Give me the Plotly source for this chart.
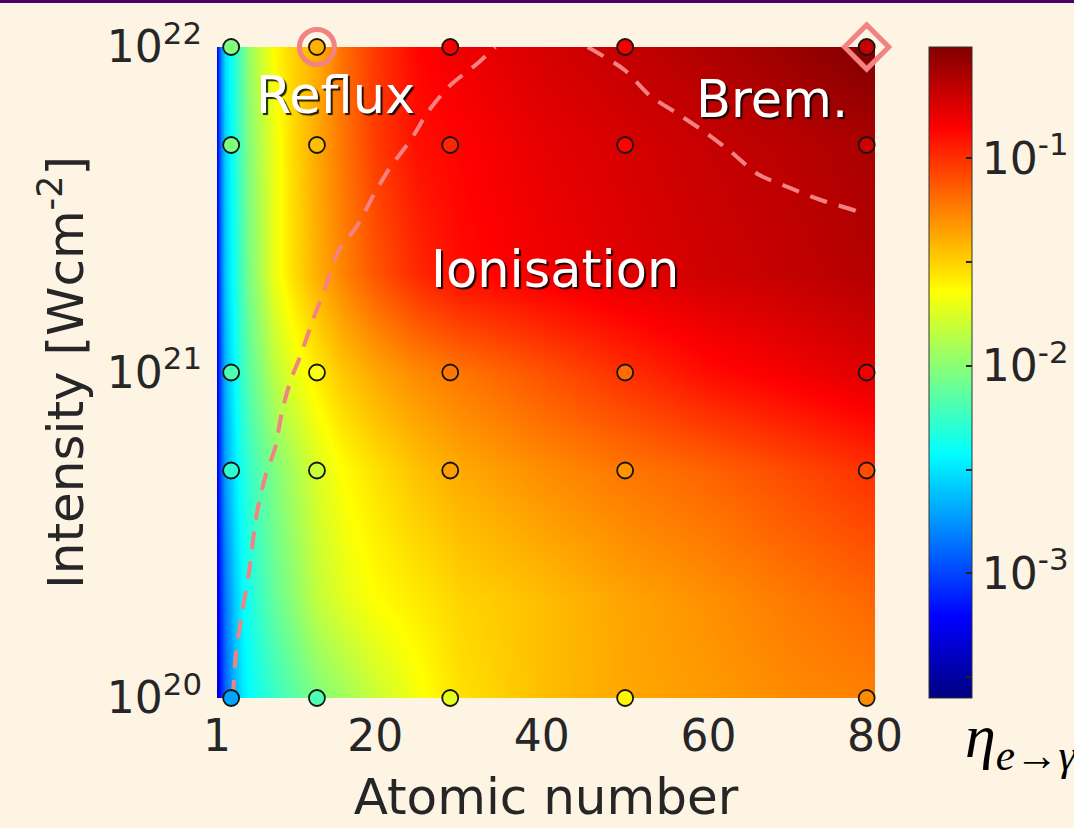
import plotly.graph_objects as go

# ---------------- data ----------------
# background model map: atomic number grid, intensity grid, log10(eta) values
atomic_grid = [1, 1.5, 2, 3, 4, 5, 6, 8, 10, 13, 16, 20, 25, 30, 40, 50, 60, 70, 80]
intensity_grid = [1e20, 2e20, 5e20, 1e21, 2e21, 5e21, 1e22]
log_eta_1e20 = [-3.35, -3.10, -2.91, -2.66, -2.50, -2.41, -2.35, -2.25, -2.16, -2.03, -1.94, -1.81, -1.67, -1.55, -1.44, -1.37, -1.33, -1.28, -1.25]
log_eta_2e20 = [-3.26, -3.04, -2.85, -2.60, -2.44, -2.35, -2.25, -2.11, -2.00, -1.83, -1.73, -1.64, -1.58, -1.51, -1.44, -1.36, -1.30, -1.23, -1.17]
log_eta_5e20 = [-3.22, -2.94, -2.72, -2.50, -2.35, -2.25, -2.16, -2.03, -1.91, -1.75, -1.64, -1.55, -1.45, -1.38, -1.29, -1.22, -1.16, -1.08, -1.00]
log_eta_1e21 = [-3.22, -2.91, -2.66, -2.44, -2.25, -2.13, -2.03, -1.84, -1.72, -1.58, -1.47, -1.37, -1.28, -1.22, -1.11, -1.00, -0.89, -0.82, -0.75]
log_eta_2e21 = [-3.19, -2.85, -2.60, -2.38, -2.19, -2.03, -1.91, -1.69, -1.55, -1.39, -1.26, -1.12, -0.98, -0.89, -0.82, -0.76, -0.71, -0.67, -0.62]
log_eta_5e21 = [-3.19, -2.82, -2.57, -2.35, -2.16, -2.00, -1.88, -1.69, -1.53, -1.37, -1.22, -1.04, -0.90, -0.86, -0.78, -0.73, -0.68, -0.64, -0.59]
log_eta_1e22 = [-3.19, -2.78, -2.53, -2.31, -2.13, -1.94, -1.81, -1.62, -1.51, -1.39, -1.20, -1.03, -0.87, -0.81, -0.73, -0.67, -0.61, -0.54, -0.46]

# simulation points
sim_Z = [2.7, 13, 29, 50, 79]
sim_I = [1e20, 5e20, 1e21, 5e21, 1e22]
sim_log_eta_1e20 = [-2.70, -2.19, -1.72, -1.62, -1.28]
sim_log_eta_5e20 = [-2.28, -1.81, -1.34, -1.31, -1.09]
sim_log_eta_1e21 = [-2.19, -1.66, -1.22, -1.19, -0.81]
sim_log_eta_5e21 = [-2.03, -1.44, -0.97, -0.86, -0.71]
sim_log_eta_1e22 = [-2.03, -1.40, -0.84, -0.82, -0.68]

# regime boundaries (atomic number, log10 intensity)
reflux_Z = [2.9, 3.3, 4.0, 4.8, 5.3, 5.8, 6.8, 8.0, 8.8, 9.9, 11.0, 12.5, 14.0, 15.5, 17.8, 19.9, 21.8, 24.4, 26.3, 28.9, 32.3, 34.4]
reflux_logI = [20.0, 20.14, 20.26, 20.38, 20.48, 20.57, 20.68, 20.77, 20.88, 20.98, 21.05, 21.16, 21.26, 21.37, 21.45, 21.55, 21.63, 21.72, 21.80, 21.88, 21.95, 22.0]
brem_Z = [45.5, 49.9, 53.0, 56.0, 59.5, 62.6, 65.9, 69.5, 73.5, 77.3, 78.3]
brem_logI = [22.0, 21.93, 21.85, 21.80, 21.74, 21.68, 21.61, 21.57, 21.53, 21.50, 21.49]

# highlighted cases
circle_case = (13, 1e22)
diamond_case = (79, 1e22)

x_tickvals = [1, 20, 40, 60, 80]
y_tickvals = [1e20, 1e21, 1e22]
y_ticktext = ["10<sup>20</sup>", "10<sup>21</sup>", "10<sup>22</sup>"]
cb_tickvals = [-3.5, -3, -2.5, -2, -1.5, -1]
cb_ticktext = ["", "10<sup>-3</sup>", "", "10<sup>-2</sup>", "", "10<sup>-1</sup>"]
cb_min, cb_max = -3.60, -0.464

# ---------------- styling ----------------
jet = [[0.0, "rgb(0,0,128)"], [0.125, "rgb(0,0,255)"], [0.375, "rgb(0,255,255)"],
       [0.625, "rgb(255,255,0)"], [0.875, "rgb(255,0,0)"], [1.0, "rgb(128,0,0)"]]
bg = "rgb(254,244,228)"
txt = "#262626"
pink = "rgb(243,130,130)"
FONT = "DejaVu Sans"

z_bg = [log_eta_1e20, log_eta_2e20, log_eta_5e20, log_eta_1e21, log_eta_2e21, log_eta_5e21, log_eta_1e22]
sim_rows = [sim_log_eta_1e20, sim_log_eta_5e20, sim_log_eta_1e21, sim_log_eta_5e21, sim_log_eta_1e22]

px, py, pc = [], [], []
for I, row in zip(sim_I, sim_rows):
    for Z, v in zip(sim_Z, row):
        px.append(Z); py.append(I); pc.append(v)

fig = go.Figure()
fig.add_trace(go.Heatmap(x=atomic_grid, y=intensity_grid, z=z_bg, zsmooth="best",
                         coloraxis="coloraxis", hoverinfo="skip"))
fig.add_trace(go.Scatter(x=reflux_Z, y=[10 ** v for v in reflux_logI], mode="lines",
                         line=dict(color=pink, width=4, dash="18px,12px", shape="spline", smoothing=0.8),
                         showlegend=False))
fig.add_trace(go.Scatter(x=brem_Z, y=[10 ** v for v in brem_logI], mode="lines",
                         line=dict(color=pink, width=4, dash="18px,12px", shape="spline", smoothing=0.8),
                         showlegend=False))
fig.add_trace(go.Scatter(x=px, y=py, mode="markers", cliponaxis=False, showlegend=False,
                         marker=dict(size=16, color=pc, coloraxis="coloraxis",
                                     line=dict(color="#151515", width=1.8))))
fig.add_trace(go.Scatter(x=[circle_case[0]], y=[circle_case[1]], mode="markers", cliponaxis=False,
                         showlegend=False,
                         marker=dict(symbol="circle-open", size=35, color=pink, line=dict(width=5, color=pink))))
fig.add_trace(go.Scatter(x=[diamond_case[0]], y=[diamond_case[1]], mode="markers", cliponaxis=False,
                         showlegend=False,
                         marker=dict(symbol="diamond-open", size=34, color=pink, line=dict(width=5, color=pink))))

shadow = "2px 2px 1px rgba(0,0,0,0.85)"
for label, zx, ly in [("Reflux", 15.2, 21.85), ("Ionisation", 41.6, 21.315), ("Brem.", 67.6, 21.84)]:
    fig.add_annotation(x=zx, y=ly, text=label, showarrow=False, xanchor="center", yanchor="middle",
                       font=dict(family=FONT, size=51, color="white", shadow=shadow))

fig.add_annotation(xref="paper", yref="paper", x=(963 - 217) / 658, y=(698 - 740) / 651,
                   text="<i>η<sub>e→γ</sub></i>", showarrow=False, xanchor="left", yanchor="middle",
                   font=dict(family="Liberation Serif", size=62, color="black"))

# top purple frame line
fig.add_shape(type="rect", xref="paper", yref="paper", x0=-0.4, x1=1.4,
              y0=1 + 44 / 651, y1=1 + 60 / 651, fillcolor="rgb(75,0,110)", line=dict(width=0), layer="above")

fig.update_layout(
    width=1074, height=828, autosize=False,
    margin=dict(l=217, r=199, t=47, b=130, autoexpand=False),
    paper_bgcolor=bg, plot_bgcolor=bg,
    font=dict(family=FONT, color=txt, size=44),
    coloraxis=dict(colorscale=jet, cmin=cb_min, cmax=cb_max,
                   colorbar=dict(x=(929 - 217) / 658, xanchor="left", xpad=0, ypad=0,
                                 y=0.5, yanchor="middle", len=1, lenmode="fraction", thickness=43,
                                 outlinewidth=1, outlinecolor="#333",
                                 tickmode="array", tickvals=cb_tickvals, ticktext=cb_ticktext,
                                 ticks="inside", ticklen=6, tickwidth=1.5, tickcolor="#222",
                                 tickfont=dict(family=FONT, size=44, color=txt))),
    xaxis=dict(range=[1, 80], tickmode="array", tickvals=x_tickvals, showgrid=False, zeroline=False,
               showline=False, ticks="", tickfont=dict(size=44), ticklabelstandoff=8,
               title=dict(text="Atomic number", font=dict(size=50), standoff=18)),
    yaxis=dict(type="log", range=[20, 22], tickmode="array", tickvals=y_tickvals, ticktext=y_ticktext,
               showgrid=False, zeroline=False, showline=False, ticks="", tickfont=dict(size=44),
               ticklabelstandoff=14,
               title=dict(text="Intensity [Wcm<sup>-2</sup>]", font=dict(size=50), standoff=7)),
)

fig.write_html("out.html")
